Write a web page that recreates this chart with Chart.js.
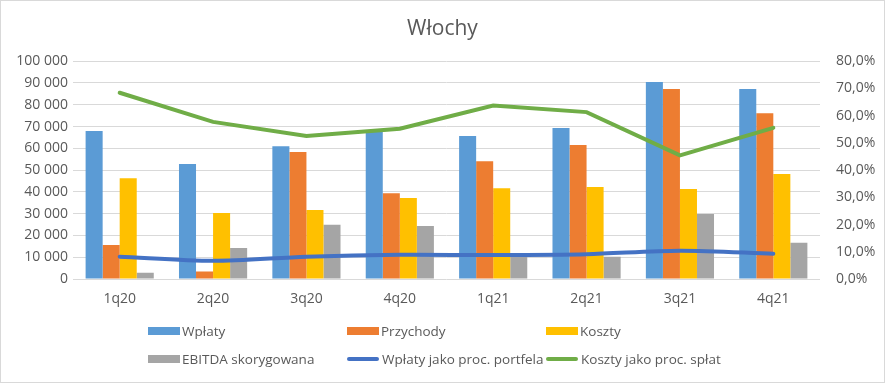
<!DOCTYPE html>
<html>
<head>
<meta charset="utf-8">
<script src="https://cdn.jsdelivr.net/npm/chart.js@4/dist/chart.umd.min.js"></script>
<style>
  html, body { margin: 0; padding: 0; background: #fff; }
  #wrap { position: relative; width: 885px; height: 383px; overflow: hidden; font-family: "Open Sans", sans-serif; }
  #c { position: absolute; left: 0; top: 0; }
  #frame { position: absolute; left: 0; top: 0; width: 883px; height: 381px; border: 1px solid #d9d9d9; pointer-events: none; }
  .lg { position: absolute; height: 20px; display: flex; align-items: center; font-size: 13.5px; color: #595959; white-space: nowrap; }
  .lg .sw { display: inline-block; width: 32px; height: 8px; margin-right: 2px; }
  .lg .ln { display: inline-block; width: 32px; height: 4px; border-radius: 2px; margin-right: 3px; }
</style>
</head>
<body>
<div id="wrap">
  <canvas id="c" width="885" height="383"></canvas>
  <div id="legend"></div>
  <div id="frame"></div>
</div>
<script>
const categories = ['1q20', '2q20', '3q20', '4q20', '1q21', '2q21', '3q21', '4q21'];
const wplaty     = [68000, 52800, 61000, 67700, 65600, 69300, 90400, 87200];
const przychody  = [15600,  3400, 58300, 39400, 54100, 61500, 87200, 76100];
const koszty     = [46300, 30300, 31700, 37200, 41700, 42200, 41300, 48200];
const ebitda     = [ 2900, 14200, 24900, 24300, 10200, 10200, 29800, 16700];
const wplatyPct  = [8.2, 6.7, 8.2, 8.9, 8.8, 9.1, 10.4, 9.3];
const kosztyPct  = [68.4, 57.7, 52.5, 55.2, 63.7, 61.3, 45.4, 55.5];
const leftTicks  = [0, 10000, 20000, 30000, 40000, 50000, 60000, 70000, 80000, 90000, 100000];
const rightTicks = [0, 10, 20, 30, 40, 50, 60, 70, 80];
const seriesNames = ['Wpłaty', 'Przychody', 'Koszty', 'EBITDA skorygowana', 'Wpłaty jako proc. portfela', 'Koszty jako proc. spłat'];

const colors = ['#5b9bd5', '#ed7d31', '#ffc000', '#a5a5a5', '#4472c4', '#70ad47'];
const txt = '#595959';
const fmtLeft = v => String(v).replace(/\B(?=(\d{3})+(?!\d))/g, ' ');
const fmtRight = v => v.toFixed(1).replace('.', ',') + '%';

const barData = [wplaty, przychody, koszty, ebitda];
const datasets = [];
barData.forEach((d, i) => datasets.push({
  type: 'bar', label: seriesNames[i], data: d, backgroundColor: colors[i],
  yAxisID: 'y', order: 2, categoryPercentage: 0.73, barPercentage: 1.0
}));
datasets.push({
  type: 'line', label: seriesNames[4], data: wplatyPct, borderColor: colors[4], backgroundColor: colors[4],
  borderWidth: 4, pointRadius: 0, tension: 0.3, yAxisID: 'y1', order: 0, borderCapStyle: 'round'
});
datasets.push({
  type: 'line', label: seriesNames[5], data: kosztyPct, borderColor: colors[5], backgroundColor: colors[5],
  borderWidth: 4, pointRadius: 0, tension: 0, yAxisID: 'y1', order: 0, borderCapStyle: 'round'
});

new Chart(document.getElementById('c'), {
  data: { labels: categories, datasets },
  options: {
    responsive: false, animation: false, maintainAspectRatio: false,
    layout: { padding: { top: 0, bottom: 0, left: 0, right: 0 } },
    plugins: {
      legend: { display: false },
      tooltip: { enabled: false },
      title: {
        display: true, text: 'Włochy', color: txt,
        font: { family: 'Open Sans', size: 21, weight: 'normal', lineHeight: 1.2 },
        padding: { top: 16, bottom: 20 }
      }
    },
    scales: {
      x: {
        grid: { display: false, drawTicks: false },
        border: { display: false },
        ticks: { color: txt, font: { family: 'Open Sans', size: 14 }, padding: 12, maxRotation: 0 },
        afterFit: s => { s.height = 104; }
      },
      y: {
        position: 'left', min: 0, max: 100000,
        afterBuildTicks: s => { s.ticks = leftTicks.map(v => ({ value: v })); },
        grid: { color: '#d9d9d9', lineWidth: 1, drawTicks: false },
        border: { display: false },
        ticks: { color: txt, font: { family: 'Open Sans', size: 14 }, padding: 5, callback: v => fmtLeft(v) },
        afterFit: s => { s.width = 73; }
      },
      y1: {
        position: 'right', min: 0, max: 80,
        afterBuildTicks: s => { s.ticks = rightTicks.map(v => ({ value: v })); },
        grid: { display: false, drawTicks: false },
        border: { display: false },
        ticks: { color: txt, font: { family: 'Open Sans', size: 14 }, padding: 16, callback: v => fmtRight(v) },
        afterFit: s => { s.width = 65; }
      }
    }
  }
});

// Legend (HTML, 3 columns x 2 rows as in the reference)
const legend = document.getElementById('legend');
const colX = [148, 347, 546];
const rowY = [321, 349];
seriesNames.forEach((name, i) => {
  const el = document.createElement('div');
  el.className = 'lg';
  el.style.left = colX[i % 3] + 'px';
  el.style.top = rowY[Math.floor(i / 3)] + 'px';
  const sw = document.createElement('span');
  sw.className = i >= 4 ? 'ln' : 'sw';
  sw.style.background = colors[i];
  el.appendChild(sw);
  el.appendChild(document.createTextNode(name));
  legend.appendChild(el);
});
</script>
</body>
</html>
